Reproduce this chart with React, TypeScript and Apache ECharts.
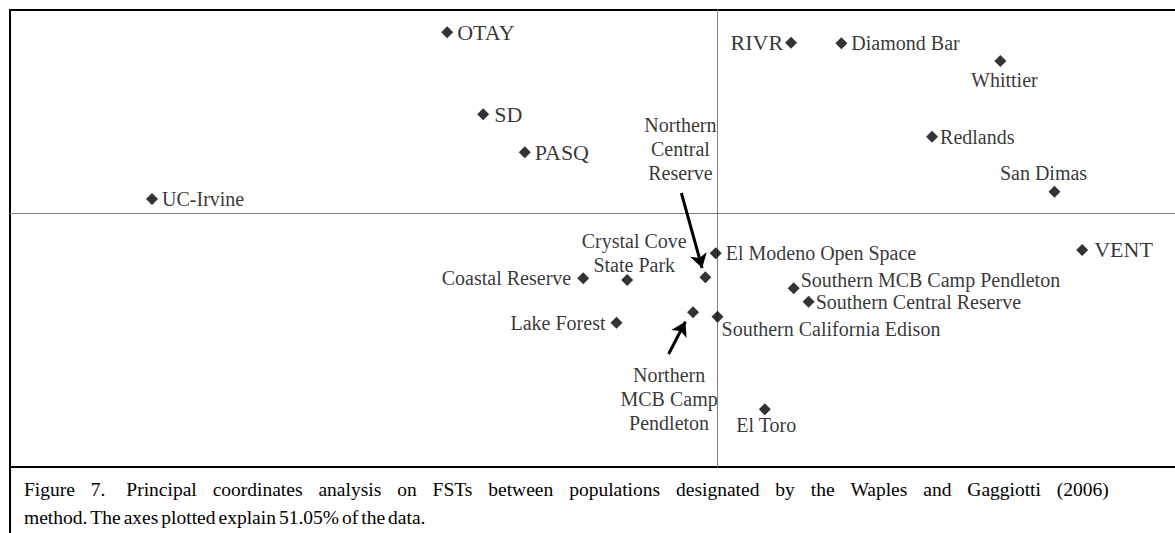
import React, { useEffect, useRef } from "react";
import * as echarts from "echarts";

// Population names (PCoA on FSTs, Waples & Gaggiotti method)
const names = [
  "OTAY", "SD", "PASQ", "UC-Irvine", "RIVR", "Diamond Bar", "Whittier", "Redlands",
  "San Dimas", "VENT", "El Modeno Open Space", "Northern Central Reserve",
  "Crystal Cove State Park", "Coastal Reserve", "Southern MCB Camp Pendleton",
  "Southern Central Reserve", "Lake Forest", "Northern MCB Camp Pendleton",
  "Southern California Edison", "El Toro",
];
// Coordinate 1 (horizontal)
const coord1 = [
  -0.1336, -0.1158, -0.0952, -0.2797, 0.0366, 0.0615, 0.1402, 0.1064,
  0.1670, 0.1807, -0.0007, -0.0058,
  -0.0445, -0.0663, 0.0379,
  0.0453, -0.0498, -0.0119,
  0.0002, 0.0236,
];
// Coordinate 2 (vertical)
const coord2 = [
  0.1780, 0.0973, 0.0599, 0.0139, 0.1678, 0.1672, 0.1498, 0.0752,
  0.0211, -0.0363, -0.0396, -0.0632,
  -0.0659, -0.0642, -0.0740,
  -0.0872, -0.1079, -0.0977,
  -0.1020, -0.1932,
];
// Annotation arrows: [from, to] in data coordinates
const arrows: [number, number][][] = [
  [[-0.0177, 0.0198], [-0.0074, -0.0541]],
  [[-0.0240, -0.1387], [-0.0157, -0.1069]],
];

const captionLine1 = [
  "Figure", "7.", "Principal", "coordinates", "analysis", "on", "FSTs", "between",
  "populations", "designated", "by", "the", "Waples", "and", "Gaggiotti", "(2006)",
];
const captionLine2 = [
  "method.", "The", "axes", "plotted", "explain", "51.05%", "of", "the", "data.",
];

const SERIF = "Liberation Serif";

// label placement styles per name
const labelStyle: Record<string, any> = {
  "OTAY": { position: "right", distance: 4, fontSize: 22 },
  "SD": { position: "right", distance: 5, fontSize: 22 },
  "PASQ": { position: "right", distance: 4, fontSize: 22 },
  "UC-Irvine": { position: "right", distance: 4 },
  "RIVR": { position: "left", distance: 2, fontSize: 22 },
  "Diamond Bar": { position: "right", distance: 4 },
  "Whittier": { position: "bottom", distance: 3, offset: [4, 0] },
  "Redlands": { position: "right", distance: 2 },
  "San Dimas": { position: "top", distance: 3, offset: [-11, 0] },
  "VENT": { position: "right", distance: 6, fontSize: 22 },
  "El Modeno Open Space": { position: "right", distance: 4 },
  "Northern Central Reserve": {
    position: "top", distance: 86, offset: [-25, 0], lineHeight: 24,
    formatter: "Northern\nCentral\nReserve",
  },
  "Crystal Cove State Park": {
    position: "top", distance: -2.5, offset: [7, 0], lineHeight: 24,
    formatter: "Crystal Cove\nState Park",
  },
  "Coastal Reserve": { position: "left", distance: 6 },
  "Southern MCB Camp Pendleton": { position: "right", distance: 1, offset: [0, -8] },
  "Southern Central Reserve": { position: "right", distance: 1 },
  "Lake Forest": { position: "left", distance: 5 },
  "Northern MCB Camp Pendleton": {
    position: "bottom", distance: 45, offset: [-24, 0], lineHeight: 24,
    formatter: "Northern\nMCB Camp\nPendleton",
  },
  "Southern California Edison": { position: "right", distance: -2, offset: [0, 12] },
  "El Toro": { position: "bottom", distance: 0, offset: [1.5, 0] },
};

export default function App() {
  const ref = useRef<HTMLDivElement>(null);

  useEffect(() => {
    if (!ref.current) return;
    const chart = echarts.init(ref.current, undefined, { renderer: "svg" });

    const data = names.map((n, i) => ({
      name: n,
      value: [coord1[i], coord2[i]],
      label: { ...labelStyle[n] },
    }));

    // justified first caption line: word gaps drawn as fixed-width spacers
    const line1Rich = captionLine1
      .map((w, i) => (i === 0 ? w : (i === 2 ? "{g2| }" : "{g| }") + w))
      .join("");
    const line2Rich = captionLine2
      .map((w, i) => (i === 0 ? w : "{h| }" + w))
      .join("");

    const capStyle = {
      fontFamily: SERIF,
      fontSize: 19.5,
      fontWeight: "normal",
      color: "#000",
    };

    chart.setOption({
      animation: false,
      backgroundColor: "#fff",
      textStyle: { fontFamily: SERIF },
      title: [
        {
          text: line1Rich,
          left: 24,
          top: 479,
          padding: 0,
          textStyle: {
            ...capStyle,
            rich: {
              g: { width: 15.9, fontFamily: SERIF, fontSize: 19.5 },
              g2: { width: 20.9, fontFamily: SERIF, fontSize: 19.5 },
            },
          },
        },
        {
          text: line2Rich,
          left: 24,
          top: 507,
          padding: 0,
          textStyle: {
            ...capStyle,
            rich: {
              h: { width: 3, fontFamily: SERIF, fontSize: 19.5 },
            },
          },
        },
      ],
      grid: {
        left: 10,
        top: 10,
        width: 1192,
        height: 457,
        show: true,
        borderColor: "#000",
        borderWidth: 2,
        backgroundColor: "transparent",
        outerBoundsMode: "none",
        containLabel: false,
      },
      xAxis: {
        type: "value",
        min: -0.35,
        max: 0.24,
        axisLine: { show: true, onZero: true, lineStyle: { color: "#808080", width: 1 } },
        axisTick: { show: false },
        axisLabel: { show: false },
        splitLine: { show: false },
      },
      yAxis: {
        type: "value",
        min: -0.25,
        max: 0.2,
        axisLine: { show: true, onZero: true, lineStyle: { color: "#808080", width: 1 } },
        axisTick: { show: false },
        axisLabel: { show: false },
        splitLine: { show: false },
      },
      graphic: [
        {
          type: "line",
          shape: { x1: 10, y1: 467, x2: 10, y2: 533 },
          style: { stroke: "#000", lineWidth: 2 },
        },
      ],
      series: [
        {
          type: "scatter",
          symbol: "diamond",
          symbolSize: 12,
          itemStyle: { color: "#000" },
          label: {
            show: true,
            fontFamily: SERIF,
            fontSize: 20,
            color: "#000",
            formatter: "{b}",
          },
          data,
          markLine: {
            silent: true,
            symbol: ["none", "arrow"],
            symbolSize: [13, 14],
            label: { show: false },
            lineStyle: { color: "#000", width: 3, type: "solid" },
            data: arrows.map(([a, b]) => [{ coord: a }, { coord: b }]),
          },
        },
      ],
    });

    return () => chart.dispose();
  }, []);

  return (
    <div
      ref={ref}
      style={{ position: "fixed", left: 0, top: 0, width: 1210, height: 533, background: "#fff" }}
    />
  );
}
